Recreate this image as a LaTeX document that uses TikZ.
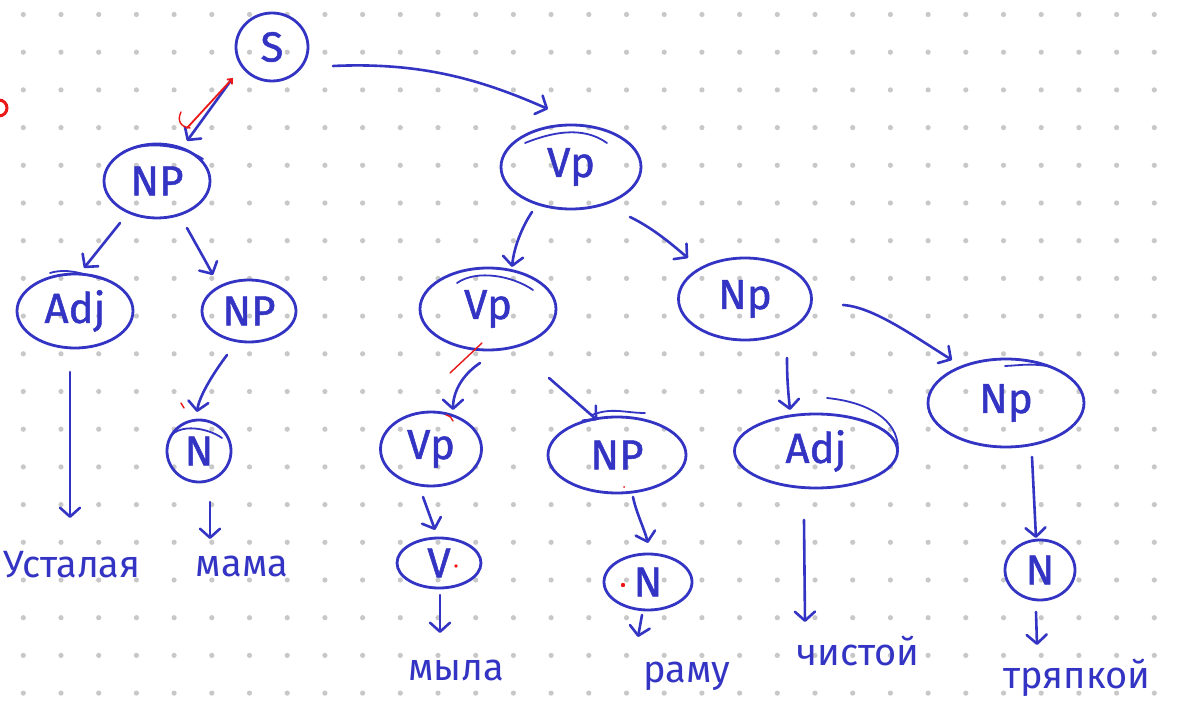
\documentclass[tikz,border=0pt]{standalone}
\usepackage{fontspec}
\setmainfont{Fira Sans}
\newfontfamily\labelfont{Fira Sans}[FakeBold=1.2]
\usetikzlibrary{shapes.geometric,arrows.meta}
\definecolor{ink}{RGB}{52,52,196}
\definecolor{dotgray}{RGB}{200,200,200}
\definecolor{redink}{RGB}{236,24,24}

\begin{document}
\begin{tikzpicture}[x=1pt,y=-1pt,
  bubble/.style={ellipse, draw=ink, line width=2.8pt, inner sep=0pt, text=ink,
                 font=\labelfont\fontsize{42}{44}\selectfont},
  word/.style={text=ink, inner sep=0pt, anchor=base, font=\fontsize{38}{40}\selectfont},
  arr/.style={draw=ink, line width=2.6pt, line cap=round, line join=round,
              -{Straight Barb[length=9pt,width=20pt,line width=2.6pt,round]}},
  extra/.style={draw=ink, line width=1.8pt, line cap=round},
  redmark/.style={draw=redink, line width=1.4pt, line cap=round}
]
% paper with dot grid
\fill[white] (0,0) rectangle (1179,711);
\useasboundingbox (0,0) rectangle (1179,711);
\foreach \i in {0,...,30}
  \foreach \j in {0,...,18}
    \fill[dotgray] ({23.3+37.7*\i},{14.5+37.7*\j}) circle (2.6pt);

% tree nodes
\node[bubble, minimum width=72pt,  minimum height=68pt] (S)   at (272,47)  {S};
\node[bubble, minimum width=106pt, minimum height=74pt] (NPa) at (157,181) {NP};
\node[bubble, minimum width=116pt, minimum height=74pt] (ADa) at (75,311)  {Adj};
\node[bubble, minimum width=94pt,  minimum height=62pt] (NPb) at (249,311) {NP};
\node[bubble, minimum width=64pt,  minimum height=62pt] (Na)  at (199,451) {N};
\node[bubble, minimum width=140pt, minimum height=84pt] (VPa) at (571,167) {Vp};
\node[bubble, minimum width=136pt, minimum height=82pt] (VPb) at (488,309) {Vp};
\node[bubble, minimum width=133pt, minimum height=82pt] (NPc) at (745,299) {Np};
\node[bubble, minimum width=101pt, minimum height=74pt] (VPc) at (431,449) {Vp};
\node[bubble, minimum width=138pt, minimum height=76pt] (NPd) at (617,455) {NP};
\node[bubble, minimum width=163pt, minimum height=74pt] (ADb) at (816,451) {Adj};
\node[bubble, minimum width=156pt, minimum height=88pt] (NPe) at (1006,403) {Np};
\node[bubble, minimum width=84pt,  minimum height=50pt] (V)   at (439,563) {V};
\node[bubble, minimum width=88pt,  minimum height=56pt] (Nb)  at (648,582) {N};
\node[bubble, minimum width=70pt,  minimum height=60pt] (Nc)  at (1040,570) {N};

% words of the sentence
\node[word] (w1) at (72,577)   {Усталая};
\node[word] (w2) at (242,576)  {мама};
\node[word] (w3) at (456,680)  {мыла};
\node[word] (w4) at (687,682)  {раму};
\node[word] (w5) at (858,665)  {чистой};
\node[word] (w6) at (1077,688) {тряпкой};

% second pen strokes on the bubbles
\draw[extra] ([shift={(-34,-29)}]NPa.center) .. controls +(30,-14) and +(-15,-10) .. ([shift={(46,-22)}]NPa.center);
\draw[extra] ([shift={(-25,-38)}]ADa.center) .. controls +(20,-6) and +(-20,-4) .. ([shift={(32,-31)}]ADa.center);
\draw[extra] ([shift={(-29,-14)}]Na.center) .. controls +(10,-14) and +(-14,-10) .. ([shift={(23,-13)}]Na.center);
\draw[extra] ([shift={(-46,-24)}]VPa.center) .. controls +(25,-10) and +(-25,-18) .. ([shift={(36,-24)}]VPa.center);
\draw[extra] ([shift={(-31,-26)}]VPb.center) .. controls +(20,-14) and +(-20,-14) .. ([shift={(45,-19)}]VPb.center);
\draw[extra] ([shift={(-25,-40)}]NPd.center) .. controls +(20,-8) and +(-20,0) .. ([shift={(28,-42)}]NPd.center);
\draw[extra] ([shift={(11,-53)}]ADb.center) .. controls +(40,4) and +(0,-30) .. ([shift={(82,-2)}]ADb.center);
\draw[extra] ([shift={(-1,-37)}]NPe.center) .. controls +(20,-1) and +(-20,-4) .. ([shift={(46,-36)}]NPe.center);

% connectors
\draw[arr] ([shift={(-40,32)}]S.center) -- ([shift={(30,-40)}]NPa.center);
\draw[arr] ([shift={(61,19)}]S.center) .. controls +(87,-4) and +(-68,-30) .. ([shift={(-23,-58)}]VPa.center);
\draw[arr] ([shift={(-37,42)}]NPa.center) -- ([shift={(9,-43)}]ADa.center);
\draw[arr] ([shift={(30,47)}]NPa.center) .. controls +(10,18) and +(-8,-15) .. ([shift={(-36,-36)}]NPb.center);
\draw[arr] ([shift={(-22,44)}]NPb.center) .. controls +(-15,20) and +(2,-15) .. ([shift={(-2,-39)}]Na.center);
\draw[arr] ([shift={(-5,61)}]ADa.center) -- ([shift={(-2,-59)}]w1.base);
\draw[arr] ([shift={(11,51)}]Na.center) -- ([shift={(-32,-37)}]w2.base);
\draw[arr] ([shift={(-39,45)}]VPa.center) .. controls +(-10,15) and +(2,-20) .. ([shift={(24,-42)}]VPb.center);
\draw[arr] ([shift={(59,50)}]VPa.center) .. controls +(25,12) and +(-12,-10) .. ([shift={(-57,-41)}]NPc.center);
\draw[arr] ([shift={(-8,54)}]VPb.center) .. controls +(-18,12) and +(0,-18) .. ([shift={(22,-39)}]VPc.center);
\draw[arr] ([shift={(61,69)}]VPb.center) -- ([shift={(-20,-35)}]NPd.center);
\draw[arr] ([shift={(-8,48)}]VPc.center) -- ([shift={(-4,-33)}]V.center);
\draw[arr] ([shift={(1,32)}]V.center) -- ([shift={(-16,-47)}]w3.base);
\draw[arr] ([shift={(16,42)}]NPd.center) .. controls +(3,15) and +(-4,-15) .. ([shift={(0,-39)}]Nb.center);
\draw[arr] ([shift={(-6,33)}]Nb.center) -- ([shift={(-49,-45)}]w4.base);
\draw[arr] ([shift={(42,59)}]NPc.center) .. controls +(0,20) and +(-2,-20) .. ([shift={(-26,-41)}]ADb.center);
\draw[arr] ([shift={(98,6)}]NPc.center) .. controls +(30,2) and +(-40,-25) .. ([shift={(-54,-43)}]NPe.center);
\draw[arr] ([shift={(-12,69)}]ADb.center) -- ([shift={(-53,-43)}]w5.base);
\draw[arr] ([shift={(26,54)}]NPe.center) -- ([shift={(-4,-32)}]Nc.center);
\draw[arr] ([shift={(-4,42)}]Nc.center) -- ([shift={(-40,-43)}]w6.base);

% red pen marks
\draw[redmark, line width=1.8pt, -{Straight Barb[length=4pt,width=7pt]}]
  ([shift={(30,-53)}]NPa.center) -- ([shift={(-39,31)}]S.center);
\draw[redmark] (181,112) .. controls (177,120) and (180,127) .. (190,128);
\draw[redmark] ([shift={(-38,64)}]VPb.center) -- ([shift={(-6,34)}]VPb.center);
\draw[redmark] (181,403) -- (184,408);
\draw[redmark] (446,415) .. controls (450,416) and (452,418) .. (453,421);
\fill[redink] (456,566) circle (1.8pt);
\fill[redink] (623,585) circle (2.2pt);
\fill[redink] (624,487) circle (1pt);
\draw[redink, line width=3pt] (-1,108) circle (8pt);
\end{tikzpicture}
\end{document}
